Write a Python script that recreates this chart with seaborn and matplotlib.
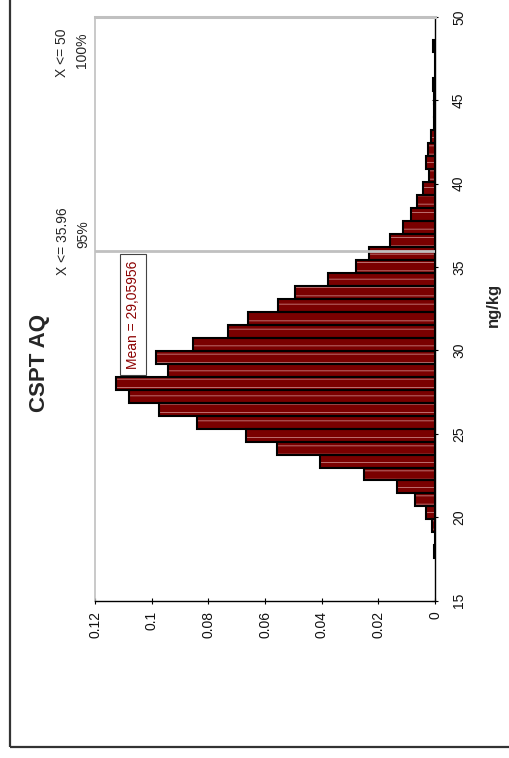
import numpy as np
import pandas as pd
import matplotlib
matplotlib.use("Agg")
import matplotlib.pyplot as plt
import seaborn as sns
from matplotlib.patches import Rectangle

# ---- data ----
bin_lo, bin_hi, n_bins = 17.53, 48.65, 40
density = [0.0005, 0.0000, 0.0010, 0.0032, 0.0071, 0.0135, 0.0250, 0.0406, 0.0559, 0.0668,
           0.0841, 0.0974, 0.1079, 0.1126, 0.0941, 0.0985, 0.0855, 0.0730, 0.0659, 0.0553,
           0.0494, 0.0377, 0.0280, 0.0232, 0.0159, 0.0112, 0.0085, 0.0065, 0.0042, 0.0022,
           0.0033, 0.0024, 0.0014, 0.0003, 0.0005, 0.0002, 0.0008, 0.0000, 0.0000, 0.0008]
x_ticks = [15, 20, 25, 30, 35, 40, 45, 50]
p_ticks = [0.12, 0.1, 0.08, 0.06, 0.04, 0.02, 0]
p_tick_labels = ["0.12", "0.1", "0.08", "0.06", "0.04", "0.02", "0"]
mean_value = "29,05956"
p95_value = 35.96
p100_value = 50
title = "CSPT AQ"
unit_label = "ng/kg"

edges = np.linspace(bin_lo, bin_hi, n_bins + 1).tolist()
centers = [(a + b) / 2 for a, b in zip(edges[:-1], edges[1:])]
df = pd.DataFrame({"ngkg": centers, "p": density})

sns.set_theme(style="white")
plt.rcParams['font.family'] = ['Liberation Sans', 'DejaVu Sans']
plt.rcParams['hatch.linewidth'] = 0.6

W, H = 509, 758
fig = plt.figure(figsize=(W / 100, H / 100), dpi=100)
ax = fig.add_axes([95 / W, 157.5 / H, 340 / W, 583.5 / H])

# filled bars with light stripes
sns.histplot(data=df, y="ngkg", weights="p", bins=edges, stat="count", ax=ax,
             color="#7a0000", edgecolor="#c88080", linewidth=0, hatch="--", alpha=1)
# black outlines
sns.histplot(data=df, y="ngkg", weights="p", bins=edges, stat="count", ax=ax,
             fill=False, color="black", linewidth=1.5)

ax.set_xlim(0.12, 0)
ax.set_ylim(15, 50)
ax.set_xlabel("")
ax.set_ylabel("")
ax.grid(False)

ax.yaxis.tick_right()
ax.set_yticks(x_ticks)
ax.set_yticklabels([str(v) for v in x_ticks])
ax.set_xticks(p_ticks)
ax.set_xticklabels(p_tick_labels)
ax.tick_params(axis="y", right=True, left=False, direction="inout", length=4.5, width=0.8,
               color="black", pad=10, labelsize=10, labelrotation=90, labelcolor="#111111")
ax.tick_params(axis="x", bottom=True, direction="inout", length=4.5, width=0.8,
               color="black", pad=5.5, labelsize=10, labelrotation=90, labelcolor="#111111")
for lab in ax.get_yticklabels():
    lab.set_va("center")

ax.spines["right"].set_color("black")
ax.spines["right"].set_linewidth(1.0)
ax.spines["bottom"].set_color("black")
ax.spines["bottom"].set_linewidth(1.0)
ax.spines["left"].set_color("#c0c0c0")
ax.spines["left"].set_linewidth(1.2)
ax.spines["top"].set_color("#c0c0c0")
ax.spines["top"].set_linewidth(2.2)

# 95% delimiter
ax.axhline(p95_value, color="#c0c0c0", lw=2.0, zorder=5)

# mean label box
fig.text(133 / W, 1 - 314.5 / H, f"Mean = {mean_value}", rotation=90, ha="center", va="center",
         fontsize=10, color="#8b0000",
         bbox=dict(boxstyle="square,pad=0.45", facecolor="white", edgecolor="#444444", lw=0.8))

# delimiter labels
fig.text(62 / W, 1 - 53 / H, f"X <= {p100_value}", rotation=90, ha="center", va="center", fontsize=10)
fig.text(82 / W, 1 - 50 / H, "100%", rotation=90, ha="center", va="center", fontsize=10)
fig.text(63 / W, 1 - 241 / H, f"X <= {p95_value}", rotation=90, ha="center", va="center", fontsize=10)
fig.text(83 / W, 1 - 234 / H, "95%", rotation=90, ha="center", va="center", fontsize=10)

# title and unit label
fig.text(40 / W, 1 - 363 / H, title, rotation=90, ha="center", va="center",
         fontsize=16, fontweight="bold")
fig.text(493 / W, 1 - 305 / H, unit_label, rotation=90, ha="center", va="center",
         fontsize=12, fontweight="bold")

# outer chart frame
fig.add_artist(Rectangle((10 / W, 11 / H), 1.2, 1.2, transform=fig.transFigure,
                         fill=False, edgecolor="#333333", lw=1.6))

fig.savefig("out.png", dpi=100)
